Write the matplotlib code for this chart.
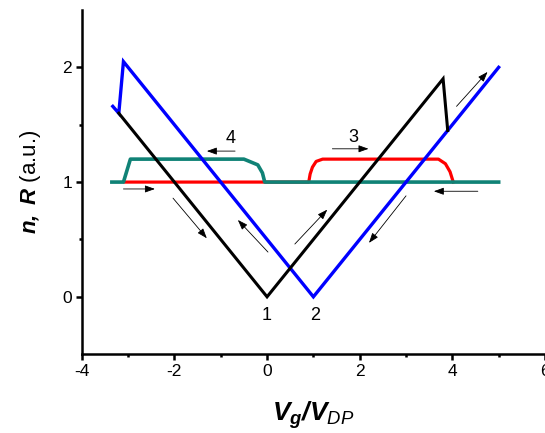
import matplotlib
matplotlib.use("Agg")
import matplotlib.pyplot as plt

plt.rcParams['font.family'] = ['Liberation Sans', 'DejaVu Sans']
plt.rcParams['mathtext.fontset'] = 'custom'
plt.rcParams['mathtext.rm'] = 'Liberation Sans'
plt.rcParams['mathtext.it'] = 'Liberation Sans:italic'
plt.rcParams['mathtext.bf'] = 'Liberation Sans:italic:bold'
plt.rcParams['axes.unicode_minus'] = False

# curve 1 (black): n vs Vg, sweep up
black_x = [-3.2, 0.0, 3.8, 3.9]
black_y = [1.6, 0.0, 1.9, 1.45]

# curve 2 (blue): sweep down, shifted Dirac point
blue_x = [-3.33, -3.2, -3.1, 1.0, 5.0]
blue_y = [1.66, 1.6, 2.05, 0.0, 2.0]

# curve 3 (red): resistance, forward sweep
red_x = [-3.07, 0.9, 0.93, 0.98, 1.06, 1.2, 3.7, 3.85, 3.95, 4.02]
red_y = [1.0, 1.0, 1.07, 1.13, 1.18, 1.2, 1.2, 1.16, 1.09, 1.0]

# curve 4 (green): resistance, backward sweep
green_x = [5.0, -0.05, -0.1, -0.2, -0.5, -2.95, -3.1, -3.35]
green_y = [1.0, 1.0, 1.08, 1.15, 1.2, 1.2, 1.0, 1.0]

# arrows: (tail x, tail y, head x, head y)
arrows = [
    (-3.1, 0.94, -2.42, 0.94),
    (-2.03, 0.86, -1.3, 0.51),
    (0.02, 0.39, -0.63, 0.67),
    (0.6, 0.46, 1.3, 0.76),
    (3.0, 0.88, 2.2, 0.47),
    (4.55, 0.92, 3.6, 0.92),
    (1.41, 1.29, 2.19, 1.29),
    (-0.69, 1.27, -1.3, 1.27),
    (4.09, 1.66, 4.76, 1.96),
]

labels = ['1', '2', '3', '4']
label_x = [0.0, 1.04, 1.86, -0.78]
label_y = [-0.16, -0.16, 1.39, 1.38]

fig = plt.figure(figsize=(5.45, 4.33), dpi=100)
ax = fig.add_axes([0.150, 0.182, 0.85, 0.795])

ax.plot(red_x, red_y, color='#ff0000', lw=2.3, solid_joinstyle='round')
ax.plot(green_x, green_y, color='#108276', lw=2.6, solid_joinstyle='round')
ax.plot(blue_x, blue_y, color='#0000ff', lw=2.4, solid_joinstyle='miter')
ax.plot(black_x, black_y, color='black', lw=2.2, solid_joinstyle='miter')

for x0, y0, x1, y1 in arrows:
    ax.annotate('', xy=(x1, y1), xytext=(x0, y0),
                arrowprops=dict(arrowstyle='-|>,head_length=0.5,head_width=0.18',
                                color='black', lw=0.6,
                                mutation_scale=12, shrinkA=0, shrinkB=0))

for t, x, y in zip(labels, label_x, label_y):
    ax.text(x, y, t, fontsize=13, ha='center', va='center')

ax.set_xlim(-4, 6)
ax.set_ylim(-0.5, 2.5)
ax.set_xticks([-4, -2, 0, 2, 4, 6])
ax.set_xticks([-3, -1, 1, 3, 5], minor=True)
ax.set_yticks([0, 1, 2])
ax.set_yticks([0.5, 1.5], minor=True)
ax.spines['top'].set_visible(False)
ax.spines['right'].set_visible(False)
ax.spines['left'].set_linewidth(1.8)
ax.spines['bottom'].set_linewidth(1.8)
ax.tick_params(which='major', direction='out', length=4, width=1.8, labelsize=12.5, pad=3)
ax.tick_params(which='minor', direction='out', length=2.5, width=1.8)

ax.set_xlabel(r'$\mathbf{V_g/V}_{\mathit{DP}}$', fontsize=19, labelpad=15)
ax.set_ylabel(r'$\mathbf{n,\ R}$ (a.u.)', fontsize=16, labelpad=14)

fig.savefig('out.png', dpi=100)
